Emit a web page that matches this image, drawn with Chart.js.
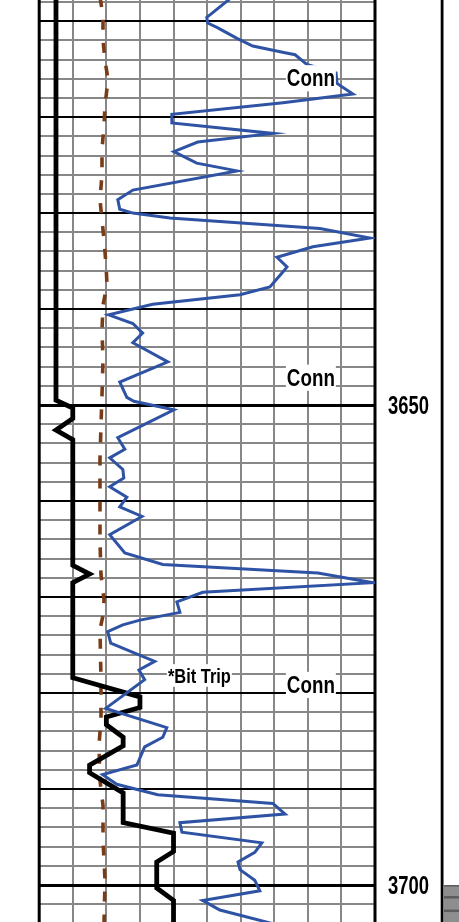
<!DOCTYPE html>
<html>
<head>
<meta charset="utf-8">
<title>Mud log 3608–3704 ft</title>
<script src="https://cdn.jsdelivr.net/npm/chart.js@4.4.1/dist/chart.umd.min.js"></script>
<style>
  html, body { margin: 0; padding: 0; background: #ffffff; }
  #wrap { position: relative; width: 459px; height: 922px; overflow: hidden; }
  canvas { display: block; }
</style>
</head>
<body>
<div id="wrap"><canvas id="log" width="459" height="922"></canvas></div>
<script>
// Depth window of the track (ft, increasing downward)
const depthTop = 3607.8;
const depthBase = 3703.85;
const depthLabels = [3650, 3700];

// Drill rate curve (black), in chart divisions
const ropDepths = [3607, 3649.5, 3650.3, 3651.4, 3652.6, 3653.6, 3666.7, 3667.6, 3668.5, 3678.4,
  3680.4, 3681.5, 3682.5, 3683.3, 3684.6, 3685.5, 3687.5, 3688.3, 3690.4, 3693.5,
  3694.6, 3696.5, 3697.6, 3700.3, 3701.6, 3705];
const ropValues = [0.5, 0.5, 1.0, 1.0, 0.5, 1.0, 1.0, 1.5, 1.0, 1.0,
  3.0, 3.0, 2.0, 2.0, 2.5, 2.5, 1.5, 1.5, 2.5, 2.5,
  4.0, 4.0, 3.5, 3.5, 4.0, 4.0];

// Total gas curve (blue), in chart divisions
const gasDepths = [3607.5, 3609.2, 3609.6, 3610.2, 3610.7, 3611.8, 3612.6, 3613.3, 3613.5, 3614.5,
  3615.4, 3616.5, 3617.6, 3618.5, 3619.7, 3620.6, 3621.7, 3622.6, 3623.6, 3624.8,
  3625.6, 3627.6, 3628.6, 3629.6, 3630.0, 3630.5, 3631.6, 3632.6, 3633.5, 3634.6,
  3635.6, 3636.25, 3637.7, 3638.5, 3639.5, 3640.6, 3641.5, 3642.5, 3643.5, 3645.5,
  3647.6, 3649.2, 3649.6, 3650.5, 3653.4, 3654.6, 3655.5, 3656.7, 3657.6, 3658.5,
  3659.6, 3660.6, 3661.6, 3663.5, 3665.4, 3666.6, 3667.5, 3668.5, 3669.5, 3670.5,
  3671.6, 3672.4, 3672.9, 3673.6, 3674.8, 3676.7, 3677.6, 3678.6, 3681.6, 3683.6,
  3684.6, 3685.6, 3687.5, 3688.5, 3689.5, 3690.6, 3691.5, 3692.6, 3693.5, 3694.5,
  3695.6, 3696.6, 3697.6, 3698.4, 3699.5, 3700.6, 3701.6, 3702.6, 3704.0];
const gasValues = [5.74, 5.14, 4.99, 5.02, 5.32, 5.89, 6.36, 7.32, 7.62, 7.97,
  8.84, 8.87, 9.34, 7.26, 3.95, 3.95, 6.96, 4.72, 4.01, 4.69,
  5.89, 2.79, 2.34, 2.40, 2.79, 3.89, 8.36, 9.85, 8.15, 7.08,
  7.38, 7.23, 6.87, 5.98, 3.38, 2.07, 2.79, 3.08, 2.79, 3.83,
  2.40, 2.61, 2.82, 4.01, 2.34, 2.55, 2.10, 2.49, 2.52, 2.10,
  2.61, 2.40, 3.06, 2.10, 2.55, 3.68, 8.30, 9.94, 4.87, 4.10,
  4.19, 3.00, 2.49, 2.04, 2.13, 3.44, 2.97, 3.14, 1.98, 3.80,
  3.68, 3.14, 2.91, 1.89, 2.31, 3.53, 6.96, 7.32, 4.19, 4.25,
  6.63, 6.42, 5.92, 5.98, 6.42, 6.57, 4.87, 5.38, 6.93];

// Corrected d-exponent trend (brown dashes), in chart divisions
const dxcDepths = [3607.5, 3609.4, 3612.0, 3614.1, 3616.1, 3618.75, 3620.8, 3623.4, 3626.0, 3628.6,
  3630.7, 3632.8, 3635.4, 3637.5, 3639.6, 3642.2, 3645.3, 3649.0, 3652.1, 3655.7,
  3659.9, 3664.1, 3667.7, 3670.3, 3671.9, 3673.4, 3678.6, 3682.8, 3685.4, 3689.1,
  3691.7, 3695.3, 3699.5, 3704.0];
const dxcValues = [1.81, 1.90, 1.90, 1.96, 2.05, 1.96, 1.93, 1.87, 1.87, 1.81,
  1.87, 1.93, 1.99, 2.02, 1.90, 1.87, 1.90, 1.87, 1.84, 1.81,
  1.81, 1.81, 1.84, 1.93, 1.90, 1.81, 1.84, 1.84, 1.78, 1.81,
  1.90, 1.90, 1.96, 1.93];

// Driller's remarks and the depth of their baseline
const noteTexts = ['Conn', 'Conn', '*Bit Trip', 'Conn'];
const noteDepths = [3616.8, 3648.0, 3678.9, 3680.0];

const toPoints = (depths, values) => depths.map((d, i) => ({ x: values[i], y: d }));

// Placement of each remark inside the track
const noteStyle = {
  'Conn': { column: 8.09, cap: 16.8, width: 48 },
  '*Bit Trip': { column: 4.77, cap: 14.5, width: 63 }
};

const FONT_STACK = '"Liberation Sans Narrow", "Liberation Sans", Arial, sans-serif';

// Bold text fitted to a cap height and a width, optionally on a white plate
function fittedText(ctx, text, cx, baseline, capH, width, plate) {
  const size = capH / 0.716;
  ctx.save();
  ctx.font = 'bold ' + size.toFixed(2) + 'px ' + FONT_STACK;
  const m = ctx.measureText(text);
  const sx = width / m.width;
  if (plate) {
    const asc = size * 0.905, desc = size * 0.212;
    ctx.fillStyle = '#ffffff';
    ctx.fillRect(cx - width / 2 - 1, baseline - asc, width + 2, asc + desc);
  }
  ctx.translate(cx, baseline);
  ctx.scale(sx, 1);
  ctx.fillStyle = '#000000';
  ctx.textAlign = 'center';
  ctx.textBaseline = 'alphabetic';
  ctx.fillText(text, 0, 0);
  ctx.restore();
}

const trackDecor = {
  id: 'trackDecor',
  beforeDatasetsDraw(chart) {
    // heavy left and right edges of the track
    const { ctx, chartArea: a } = chart;
    ctx.save();
    ctx.fillStyle = '#000000';
    ctx.fillRect(a.left - 1.5, 0, 3, chart.height);
    ctx.fillRect(a.right - 1.5, 0, 3, chart.height);
    ctx.restore();
  },
  afterDatasetsDraw(chart) {
    const { ctx } = chart;
    const xs = chart.scales.x, ys = chart.scales.y;
    noteTexts.forEach((t, i) => {
      const st = noteStyle[t];
      fittedText(ctx, t, xs.getPixelForValue(st.column), ys.getPixelForValue(noteDepths[i]),
        st.cap, st.width, true);
    });
  },
  afterDraw(chart) {
    const { ctx, chartArea: a } = chart;
    const ys = chart.scales.y;
    // depth column divider
    ctx.save();
    ctx.fillStyle = '#000000';
    ctx.fillRect(a.right + 65.7, 0, 2.8, chart.height);
    // depth numbers, centred in the depth column
    const cx = (a.right + a.right + 67) / 2;
    depthLabels.forEach(d => {
      const y = ys.getPixelForValue(d);
      fittedText(ctx, String(d), cx, y + 9, 18, 41, false);
    });
    // lithology column starting at 3700 ft
    const yTop = ys.getPixelForValue(3700);
    const x0 = a.right + 69;
    ctx.fillStyle = '#8e8e8e';
    ctx.fillRect(x0, yTop, chart.width - x0, chart.height - yTop);
    ctx.fillStyle = '#5c5c5c';
    ctx.fillRect(x0, yTop, chart.width - x0, 1.5);
    ctx.fillRect(x0, yTop + 11, chart.width - x0, 2.5);
    ctx.fillRect(x0, yTop + 24.5, chart.width - x0, 2.5);
    ctx.restore();
  }
};

const GRID_GRAY = '#878787';

new Chart(document.getElementById('log'), {
  type: 'scatter',
  data: {
    datasets: [
      {
        label: 'Total gas',
        data: toPoints(gasDepths, gasValues),
        showLine: true,
        borderColor: '#2f53a4',
        borderWidth: 3,
        borderJoinStyle: 'miter',
        pointRadius: 0,
        pointHoverRadius: 0,
        tension: 0
      },
      {
        label: 'Drill rate',
        data: toPoints(ropDepths, ropValues),
        showLine: true,
        borderColor: '#000000',
        borderWidth: 4.8,
        borderJoinStyle: 'miter',
        pointRadius: 0,
        pointHoverRadius: 0,
        tension: 0
      },
      {
        label: 'Dxc',
        data: toPoints(dxcDepths, dxcValues),
        showLine: true,
        borderColor: '#7a3c17',
        borderWidth: 3.6,
        borderDash: [10, 13],
        borderCapStyle: 'butt',
        pointRadius: 0,
        pointHoverRadius: 0,
        tension: 0
      }
    ]
  },
  options: {
    responsive: false,
    animation: false,
    events: [],
    devicePixelRatio: 1,
    layout: { padding: { left: 39.2, right: 84, top: 0, bottom: 0 } },
    plugins: { legend: { display: false }, tooltip: { enabled: false } },
    scales: {
      x: {
        type: 'linear',
        min: 0,
        max: 10,
        z: -1,
        ticks: { display: false, stepSize: 1 },
        border: { display: false },
        grid: {
          drawTicks: false,
          color: c => (c.tick && (c.tick.value === 0 || c.tick.value === 10)) ? 'rgba(0,0,0,0)' : GRID_GRAY,
          lineWidth: 2
        },
        afterFit: s => { s.height = 0; }
      },
      y: {
        type: 'linear',
        reverse: true,
        min: depthTop,
        max: depthBase,
        position: 'left',
        ticks: { display: false, stepSize: 2, includeBounds: false },
        border: { display: false },
        grid: {
          drawTicks: false,
          color: c => (c.tick && c.tick.value % 10 === 0) ? '#000000' : GRID_GRAY,
          lineWidth: c => (c.tick && c.tick.value % 50 === 0) ? 3 : 2
        },
        afterFit: s => { s.width = 0; }
      }
    }
  },
  plugins: [trackDecor]
});
</script>
</body>
</html>
